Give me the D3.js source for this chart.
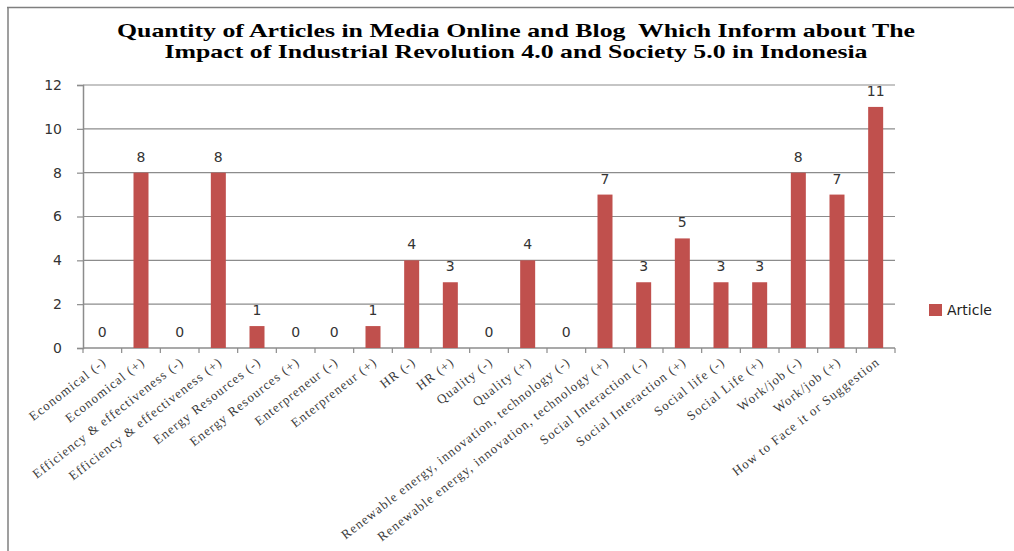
<!DOCTYPE html>
<html>
<head>
<meta charset="utf-8">
<script src="https://cdn.jsdelivr.net/npm/d3@7"></script>
<style>
  body { margin: 0; background: #fff; }
</style>
</head>
<body>
<div id="chart"></div>
<script>
// data
var categories = [
  'Economical (-)', 'Economical (+)',
  'Efficiency & effectiveness (-)', 'Efficiency & effectiveness (+)',
  'Energy Resources (-)', 'Energy Resources (+)',
  'Enterpreneur (-)', 'Enterpreneur (+)',
  'HR (-)', 'HR (+)',
  'Quality (-)', 'Quality (+)',
  'Renewable energy, innovation, technology (-)', 'Renewable energy, innovation, technology (+)',
  'Social Interaction (-)', 'Social Interaction (+)',
  'Social life (-)', 'Social Life (+)',
  'Work/job (-)', 'Work/job (+)',
  'How to Face it or Suggestion'
];
var articles = [0, 8, 0, 8, 1, 0, 0, 1, 4, 3, 0, 4, 0, 7, 3, 5, 3, 3, 8, 7, 11];
var yTicks = [0, 2, 4, 6, 8, 10, 12];
var seriesName = 'Article';
var titleLines = [
  'Quantity of Articles in Media Online and Blog  Which Inform about The',
  'Impact of Industrial Revolution 4.0 and Society 5.0 in Indonesia'
];

var W = 1014, H = 551;
var plot = {left: 83, right: 895, top: 85, bottom: 348};

var svg = d3.select('#chart')
  .append('svg')
    .attr('width', W)
    .attr('height', H);

// frame (only top and left edge visible in the picture)
svg.append('line')
  .attr('x1', 7).attr('x2', W).attr('y1', 7.5).attr('y2', 7.5)
  .attr('stroke', '#7f7f7f').attr('stroke-width', 1.5);
svg.append('line')
  .attr('x1', 8).attr('x2', 8).attr('y1', 7).attr('y2', H)
  .attr('stroke', '#7f7f7f').attr('stroke-width', 1.5);

// title
svg.selectAll('.title')
  .data(titleLines)
  .enter()
  .append('text')
    .attr('class', 'title')
    .attr('x', 516)
    .attr('y', function(d, i) { return 37 + i * 21; })
    .attr('text-anchor', 'middle')
    .attr('font-family', '"Liberation Serif", "Times New Roman", serif')
    .attr('font-weight', 'bold')
    .attr('font-size', '19px')
    .attr('fill', '#000')
    .style('white-space', 'pre')
    .attr('textLength', function(d, i) { return i === 0 ? 798 : 703; })
    .attr('lengthAdjust', 'spacingAndGlyphs')
    .text(function(d) { return d; });

// scales
var x = d3.scaleBand()
  .domain(categories)
  .range([plot.left, plot.right])
  .paddingInner(0)
  .paddingOuter(0);

var y = d3.scaleLinear()
  .domain([0, 12])
  .range([plot.bottom, plot.top]);

// gridlines
svg.append('g')
  .selectAll('line')
  .data(yTicks.filter(function(d) { return d > 0; }))
  .enter()
  .append('line')
    .attr('x1', plot.left)
    .attr('x2', plot.right)
    .attr('y1', function(d) { return y(d); })
    .attr('y2', function(d) { return y(d); })
    .attr('stroke', '#8c8c8c')
    .attr('stroke-width', 1.2);

// y axis
var yAxis = svg.append('g')
  .attr('transform', 'translate(' + plot.left + ',0)')
  .call(d3.axisLeft(y).tickValues(yTicks).tickSize(6).tickPadding(15).tickFormat(d3.format('d')));
yAxis.select('.domain').attr('stroke', '#8c8c8c').attr('stroke-width', 1.5);
yAxis.selectAll('.tick line').attr('stroke', '#8c8c8c').attr('stroke-width', 1.2);
yAxis.selectAll('.tick text')
  .attr('font-family', '"DejaVu Sans", Verdana, sans-serif')
  .attr('font-size', '14px')
  .attr('fill', '#333');

// x axis: ticks sit on band edges
var xAxisG = svg.append('g');
xAxisG.append('line')
  .attr('x1', plot.left).attr('x2', plot.right)
  .attr('y1', plot.bottom).attr('y2', plot.bottom)
  .attr('stroke', '#8c8c8c').attr('stroke-width', 1.5);
xAxisG.selectAll('.xtick')
  .data(categories.concat(['__end']))
  .enter()
  .append('line')
    .attr('class', 'xtick')
    .attr('x1', function(d, i) { return plot.left + i * x.bandwidth(); })
    .attr('x2', function(d, i) { return plot.left + i * x.bandwidth(); })
    .attr('y1', plot.bottom)
    .attr('y2', plot.bottom + 5)
    .attr('stroke', '#8c8c8c')
    .attr('stroke-width', 1.2);

// x labels, rotated
xAxisG.selectAll('.xlabel')
  .data(categories)
  .enter()
  .append('text')
    .attr('class', 'xlabel')
    .attr('transform', function(d) {
      return 'translate(' + (x(d) + x.bandwidth() / 2 + 2) + ',' + (plot.bottom + 12) + ')rotate(-38)';
    })
    .attr('text-anchor', 'end')
    .attr('dy', '0.35em')
    .attr('font-family', '"Liberation Serif", "Times New Roman", serif')
    .attr('font-size', '13px')
    .attr('letter-spacing', '1.1px')
    .attr('fill', '#3a3a3a')
    .text(function(d) { return d; });

// bars
var barW = 15;
svg.selectAll('.bar')
  .data(articles)
  .enter()
  .append('rect')
    .attr('class', 'bar')
    .attr('x', function(d, i) { return x(categories[i]) + (x.bandwidth() - barW) / 2; })
    .attr('width', barW)
    .attr('y', function(d) { return y(d); })
    .attr('height', function(d) { return plot.bottom - y(d); })
    .attr('fill', '#c0504d');

// value labels
svg.selectAll('.val')
  .data(articles)
  .enter()
  .append('text')
    .attr('class', 'val')
    .attr('x', function(d, i) { return x(categories[i]) + x.bandwidth() / 2; })
    .attr('y', function(d) { return y(d) - 11; })
    .attr('text-anchor', 'middle')
    .attr('font-family', '"DejaVu Sans", Verdana, sans-serif')
    .attr('font-size', '14px')
    .attr('fill', '#333')
    .text(function(d) { return d; });

// legend
var legend = svg.append('g').attr('transform', 'translate(929,304)');
legend.append('rect')
  .attr('width', 13).attr('height', 12)
  .attr('fill', '#c0504d');
legend.append('text')
  .attr('x', 18).attr('y', 6)
  .attr('dy', '0.35em')
  .attr('font-family', '"DejaVu Sans", Verdana, sans-serif')
  .attr('font-size', '14px')
  .attr('fill', '#222')
  .text(seriesName);
</script>
</body>
</html>
